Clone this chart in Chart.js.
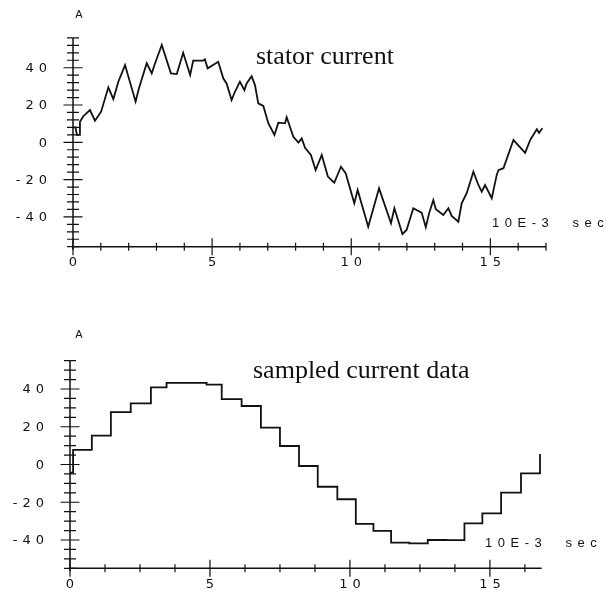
<!DOCTYPE html>
<html>
<head>
<meta charset="utf-8">
<script src="https://cdn.jsdelivr.net/npm/chart.js@4.4.1/dist/chart.umd.min.js"></script>
<style>
  body { margin: 0; background: #fff; width: 610px; height: 593px; position: relative; overflow: hidden; }
  canvas { position: absolute; left: 0; }
  .txt { position: absolute; white-space: nowrap; color: #111; }
  .unit { font: 11px "Liberation Sans", sans-serif; line-height: 11px; width: 12px; text-align: center; }
  .title { font: 26px "Liberation Serif", serif; line-height: 26px; }
  .xunit { font: 13px "Liberation Sans", sans-serif; line-height: 13px; letter-spacing: 5.5px; }
</style>
</head>
<body>
<canvas id="topChart" width="610" height="290" style="top:0"></canvas>
<canvas id="botChart" width="610" height="303" style="top:290px"></canvas>

<div class="txt unit" style="left:73px; top:9px">A</div>
<div class="txt title" style="left:256px; top:43px">stator current</div>
<div class="txt xunit" style="left:492px; top:216px">10E-3&nbsp; sec</div>

<div class="txt unit" style="left:73px; top:329px">A</div>
<div class="txt title" style="left:253px; top:357px">sampled current data</div>
<div class="txt xunit" style="left:485px; top:536px">10E-3&nbsp; sec</div>

<script>
// stator current (measured), time in 10E-3 sec, current in A
var statorT = [0, 0.09, 0.14, 0.22, 0.25, 0.37, 0.61, 0.79, 1.01, 1.27,
  1.45, 1.63, 1.87, 2.25, 2.37, 2.65, 2.83, 2.95, 3.19, 3.52,
  3.73, 3.96, 4.21, 4.32, 4.68, 4.74, 4.84, 5.22, 5.4, 5.52,
  5.7, 5.82, 6.0, 6.16, 6.24, 6.42, 6.54, 6.66, 6.84, 7.02,
  7.24, 7.38, 7.62, 7.68, 7.92, 8.1, 8.22, 8.34, 8.55, 8.72,
  8.94, 9.16, 9.39, 9.63, 9.8, 10.11, 10.23, 10.61, 11.0, 11.43,
  11.55, 11.84, 11.99, 12.23, 12.53, 12.68, 12.8, 12.95, 13.04, 13.31,
  13.49, 13.61, 13.85, 13.97, 14.15, 14.39, 14.57, 14.69, 14.81, 15.05,
  15.23, 15.29, 15.47, 15.83, 16.25, 16.43, 16.67, 16.75, 16.87];
var statorA = [8, 8, 4, 4, 11, 14, 17.3, 11.6, 16.4, 29.5,
  23.2, 32.5, 41.4, 21.8, 29, 42.4, 37, 42.4, 52.2, 37,
  36.6, 48, 36.1, 43.8, 43.8, 44.5, 39.7, 43.2, 34.3, 31.6,
  22.7, 27.1, 32.5, 28, 31.6, 35.5, 30.7, 20.9, 19.5, 10.2,
  3.9, 10.5, 10.2, 13.4, 3, -0.2, 2.1, -3, -6.8, -14.9,
  -6.8, -18.4, -21.7, -13.1, -16.6, -32.7, -25.6, -45.3, -24.7, -43.4,
  -35.4, -49.2, -47, -35.4, -37.7, -45.5, -38, -31, -35.9, -39,
  -35.4, -39.5, -42.6, -32.7, -27.3, -15.8, -22.9, -26.5, -22.9, -30,
  -17.5, -14.9, -13.9, 1.2, -5.6, 1.2, 7, 5.1, 7.5];

// sampled current data (held between samples)
var sampleT = [0, 0.11, 0.78, 1.46, 2.17, 2.89, 3.45, 4.17, 4.88, 5.42,
  6.13, 6.82, 7.5, 8.18, 8.85, 9.55, 10.21, 10.84, 11.47, 12.12,
  12.78, 13.44, 14.09, 14.73, 15.4, 16.11, 16.79];
var sampleA = [-4.3, 7.7, 15.3, 27.7, 32.4, 40.9, 43.3, 43.2, 42.3, 34.6,
  31, 19.5, 9.8, -0.8, -11.8, -18.4, -31.5, -35.2, -41.4, -41.8,
  -40, -40.1, -31.2, -25.9, -14.9, -4.7, 5.6];

var yTickLabels = [-40, -20, 0, 20, 40];
var xTickLabels = [0, 5, 10, 15];

function pts(t, a) {
  return t.map(function (v, i) { return { x: v, y: a[i] }; });
}

// oscilloscope style axes: ticks crossing the axis lines
var scopeAxes = {
  id: 'scopeAxes',
  afterDatasetsDraw: function (chart, args, o) {
    var ctx = chart.ctx, xs = chart.scales.x, ys = chart.scales.y;
    var x0 = xs.getPixelForValue(0);
    var yb = ys.getPixelForValue(ys.min);
    ctx.save();
    ctx.strokeStyle = '#111';
    ctx.lineWidth = 1.5;
    ctx.beginPath();
    ctx.moveTo(x0, ys.getPixelForValue(ys.max));
    ctx.lineTo(x0, yb + 3);
    ctx.moveTo(x0 - 1, yb);
    ctx.lineTo(xs.getPixelForValue(xs.max), yb);
    ctx.stroke();

    ctx.lineWidth = 1.2;
    ctx.beginPath();
    for (var v = ys.min; v <= ys.max + 1e-6; v += o.yStep) {
      var p = ys.getPixelForValue(v);
      var l = (Math.abs(v) % 20 === 0) ? 9.5 : 6;
      ctx.moveTo(x0 - l, p);
      ctx.lineTo(x0 + l, p);
    }
    for (var i = 0; i * o.xStep <= xs.max + 1e-6; i++) {
      var xv = i * o.xStep;
      var px = xs.getPixelForValue(xv);
      var lx = (Math.abs(xv % 5) < 1e-6) ? 8.5 : 4;
      ctx.moveTo(px, yb - lx);
      ctx.lineTo(px, yb + lx);
    }
    ctx.stroke();

    ctx.fillStyle = '#111';
    ctx.font = '13px "DejaVu Sans"';
    ctx.letterSpacing = '5px';
    ctx.textBaseline = 'middle';
    ctx.textAlign = 'right';
    yTickLabels.forEach(function (v) {
      ctx.fillText(String(v), x0 - 26 + 5, ys.getPixelForValue(v) + 1);
    });
    ctx.textAlign = 'center';
    xTickLabels.forEach(function (v) {
      ctx.fillText(String(v), xs.getPixelForValue(v) + 2.5, yb + o.xLabelGap);
    });
    ctx.restore();
  }
};

function makeConfig(data, stepped, xMax, yLim, pad, axisOpts) {
  return {
    type: 'line',
    data: {
      datasets: [{
        data: data,
        stepped: stepped,
        borderColor: '#111',
        borderWidth: 1.8,
        pointRadius: 0,
        tension: 0,
        fill: false
      }]
    },
    options: {
      responsive: false,
      animation: false,
      events: [],
      layout: { padding: pad },
      plugins: {
        legend: { display: false },
        tooltip: { enabled: false },
        scopeAxes: axisOpts
      },
      scales: {
        x: { type: 'linear', min: 0, max: xMax, display: false },
        y: { type: 'linear', min: -yLim, max: yLim, display: false }
      }
    },
    plugins: [scopeAxes]
  };
}

new Chart(document.getElementById('topChart'),
  makeConfig(pts(statorT, statorA), false, 17, 56,
    { left: 73, right: 64, top: 37.9, bottom: 43.3 },
    { xStep: 1, yStep: 4, xLabelGap: 15.5 }));

// 'before': hold the previous sample, then jump at the new sample time
new Chart(document.getElementById('botChart'),
  makeConfig(pts(sampleT, sampleA), 'before', 16.85, 55,
    { left: 70, right: 68.3, top: 70.7, bottom: 24.7 },
    { xStep: 1.25, yStep: 5, xLabelGap: 16.7 }));
</script>
</body>
</html>
